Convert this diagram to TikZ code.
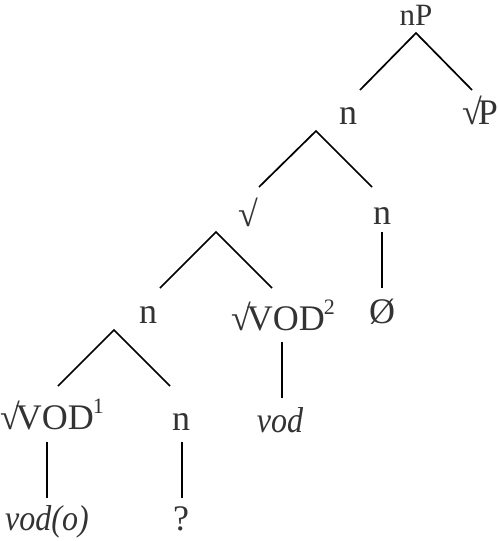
\documentclass[tikz,border=0pt]{standalone}
\usepackage{fontspec}
\usepackage{graphicx}
\setmainfont{Liberation Serif}
\definecolor{txt}{HTML}{333333}
\newcommand{\rt}{\char"221A\kern-4pt}
\newcommand{\supnum}[1]{\kern-1pt\raisebox{0.42em}{\fontsize{22}{24}\selectfont #1}}
\newcommand{\itnarrow}[1]{\scalebox{0.89}[1]{\itshape #1}}
\tikzset{
  lab/.style={anchor=base, inner sep=0pt, text=txt, font=\fontsize{36}{40}\selectfont},
  edge/.style={line width=1.7pt, line cap=butt}
}
\begin{document}
\begin{tikzpicture}[x=1pt,y=-1pt]
\useasboundingbox (0,0) rectangle (498,541);
% labels
\node[lab, font=\fontsize{31}{35}\selectfont] (nP) at (416,25) {nP};
\node[lab] (n1)   at (348,124) {n};
\node[lab, anchor=base east] (rP) at (498,124) {\rt P};
\node[lab] (r2)   at (248,226) {\char"221A};
\node[lab] (n2)   at (382,224) {n};
\node[lab] (n3)   at (148,323) {n};
\node[lab] (vod2) at (283,330) {\rt VOD\supnum{2}};
\node[lab] (zero) at (382,323) {Ø};
\node[lab, anchor=base west] (vod1) at (0,429) {\rt VOD\supnum{1}};
\node[lab] (n4)   at (181,430) {n};
\node[lab] (e2)   at (280,432) {\itnarrow{vod}};
\node[lab] (e1)   at (47,530)  {\itnarrow{vod(o)}};
\node[lab] (q)    at (181,530) {?};
% connector ends
\coordinate (nP-a) at (416,33);
\coordinate (n1-t) at (360,90);
\coordinate (rP-t) at (472,90);
\coordinate (n1-a) at (316,131);
\coordinate (r2-t) at (259,187);
\coordinate (n2-t) at (372,187);
\coordinate (r2-a) at (216,232);
\coordinate (n3-t) at (160,288);
\coordinate (vod2-t) at (272,288);
\coordinate (n2-a) at (382,232);
\coordinate (zero-t) at (382,288);
\coordinate (n3-a) at (114,330);
\coordinate (vod1-t) at (58,386);
\coordinate (n4-t) at (170,386);
\coordinate (vod2-a) at (282,342);
\coordinate (e2-t) at (282,398);
\coordinate (vod1-a) at (47,442);
\coordinate (e1-t) at (47,498);
\coordinate (n4-a) at (182,442);
\coordinate (q-t) at (182,498);
% connectors
\draw[edge] (n1-t) -- (nP-a) -- (rP-t);
\draw[edge] (r2-t) -- (n1-a) -- (n2-t);
\draw[edge] (n3-t) -- (r2-a) -- (vod2-t);
\draw[edge] (n2-a) -- (zero-t);
\draw[edge] (vod1-t) -- (n3-a) -- (n4-t);
\draw[edge] (vod2-a) -- (e2-t);
\draw[edge] (vod1-a) -- (e1-t);
\draw[edge] (n4-a) -- (q-t);
\end{tikzpicture}
\end{document}
